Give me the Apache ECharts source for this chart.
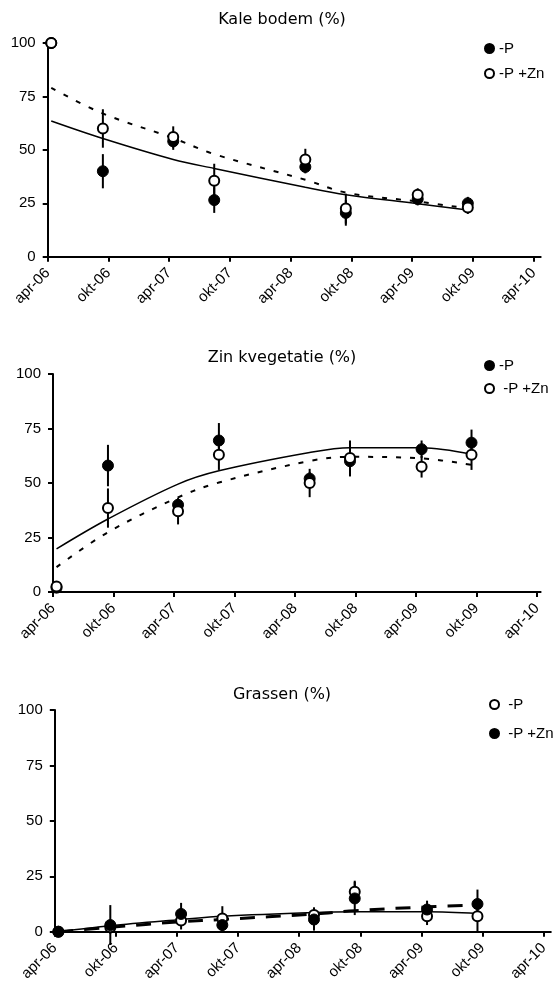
<!DOCTYPE html>
<html>
<head>
<meta charset="utf-8">
<script src="https://cdn.jsdelivr.net/npm/echarts@6/dist/echarts.min.js"></script>
<style>html,body{margin:0;padding:0;background:#fff}#c{width:554px;height:989px}</style>
</head>
<body>
<div id="c"></div>
<script>
// ---- data ----
const xLabels = ['apr-06','okt-06','apr-07','okt-07','apr-08','okt-08','apr-09','okt-09','apr-10'];
const yTicks = [0, 25, 50, 75, 100];
// sampling dates, months since apr-06
const dates = [0.35, 5.45, 12.4, 16.45, 25.45, 29.45, 36.55, 41.5];

// Kale bodem (%)
const kaleP      = [100, 40, 54, 26.5, 42, 20.5, 27, 25];
const kalePErr   = [0, 8, 4, 6, 3, 6, 3, 3];
const kalePZn    = [100, 60, 56, 35.5, 45.5, 22.5, 29, 23];
const kalePZnErr = [0, 9, 5, 8, 5, 7, 3, 3];
const kaleFitP   = [63.5, 55.3, 45.5, 41.3, 32.5, 29, 24.8, 21.8];
const kaleFitPZn = [79, 67, 55.5, 48, 36, 30, 25.8, 22.6];

// Zin kvegetatie (%)
const zinkP      = [2, 58, 40, 69.5, 52, 60, 65.5, 68.5];
const zinkPErr   = [0, 9.5, 3, 8, 3, 7, 4, 6];
const zinkPZn    = [2.5, 38.5, 37, 63, 50, 61.5, 57.5, 63];
const zinkPZnErr = [0, 9, 6, 7, 6.5, 8, 5, 7];
const zinkFitP   = [19.8, 33.5, 49.5, 55.6, 64, 66.2, 66.2, 63.2];
const zinkFitPZn = [11.4, 27.4, 43.4, 50.2, 60.1, 62, 61.3, 58.3];

// Grassen (%)
const grasP      = [0, 2, 5, 6, 7.5, 18, 7, 7];
const grasPErr   = [0, 3, 4, 5.5, 3.5, 5, 4, 7];
const grasPZn    = [0, 3, 8, 3, 5.5, 15, 10, 12.5];
const grasPZnErr = [0, 9, 5, 3, 5, 7.5, 4, 6.5];
const grasFitP   = [0, 2.7, 5.5, 7, 8.7, 9, 9, 8.2];
const grasFitPZn = [0, 2, 4.5, 5.5, 8, 9.5, 11.2, 12];

const titles = ['Kale bodem (%)', 'Zin kvegetatie (%)', 'Grassen (%)'];
const legendNames = {
  k_P: '-P', k_PZn: '-P +Zn',
  z_P: '-P', z_PZn: ' -P +Zn',
  g_P: ' -P', g_PZn: ' -P +Zn'
};

// ---- layout ----
const panels = [
  {left: 47.7, top: 43, height: 213.7, width: 493, max: 48.7, titleY: 20, legTop: 41, legGap: 10, legLeft: 484},
  {left: 53, top: 374, height: 218, width: 487.6, max: 48.35, titleY: 358, legTop: 358, legGap: 8, legLeft: 484},
  {left: 54.8, top: 710, height: 221.7, width: 496, max: 48.7, titleY: 695, legTop: 697, legGap: 14, legLeft: 489}
];

const FONT = "'Liberation Sans', Arial, sans-serif";
const tickVals = xLabels.map((_, i) => i * 6);

const grid = [], xAxis = [], yAxis = [], title = [], legend = [], series = [];

panels.forEach((p, i) => {
  grid.push({left: p.left, top: p.top, width: p.width, height: p.height, containLabel: false});
  xAxis.push({
    type: 'value', gridIndex: i, min: 0, max: p.max,
    axisLine: {show: true, onZero: false, lineStyle: {color: '#000', width: 2}},
    axisTick: {show: true, length: 5, lineStyle: {color: '#000', width: 2}, customValues: tickVals},
    axisLabel: {
      customValues: tickVals, rotate: 45, margin: 14, color: '#000',
      fontFamily: FONT, fontSize: 15,
      formatter: v => xLabels[Math.round(v / 6)]
    },
    splitLine: {show: false}
  });
  yAxis.push({
    type: 'value', gridIndex: i, min: yTicks[0], max: yTicks[yTicks.length - 1], interval: 25,
    axisLine: {show: true, lineStyle: {color: '#000', width: 2}},
    axisTick: {show: true, length: 5, lineStyle: {color: '#000', width: 2}},
    axisLabel: {margin: 12, color: '#000', fontFamily: FONT, fontSize: 15},
    splitLine: {show: false}
  });
  title.push({
    text: titles[i], left: 282, top: p.titleY, padding: 0,
    textAlign: 'center', textVerticalAlign: 'middle',
    textStyle: {fontFamily: "'DejaVu Sans', sans-serif", fontSize: 16, fontWeight: 'normal', color: '#000'}
  });
});

function errData(vals, errs) {
  return dates.map((d, k) => [d, vals[k] - errs[k], vals[k] + errs[k]]);
}
function pts(vals) { return dates.map((d, k) => [d, vals[k]]); }

function errSeries(idx, vals, errs) {
  return {
    type: 'custom', xAxisIndex: idx, yAxisIndex: idx, z: 1, silent: true,
    data: errData(vals, errs), encode: {x: 0, y: [1, 2]},
    renderItem: (params, api) => {
      const x = api.value(0);
      const lo = api.coord([x, api.value(1)]);
      const hi = api.coord([x, api.value(2)]);
      return {type: 'line', shape: {x1: lo[0], y1: lo[1], x2: hi[0], y2: hi[1]},
              style: {stroke: '#000', lineWidth: 2}};
    }
  };
}
function fitSeries(idx, vals, dash, width) {
  return {
    type: 'line', xAxisIndex: idx, yAxisIndex: idx, z: 2, silent: true,
    data: pts(vals), smooth: 0.35, symbol: 'none',
    lineStyle: {color: '#000', width: width, type: dash}
  };
}
function markSeries(idx, name, vals, filled, z) {
  return {
    name: name, type: 'scatter', xAxisIndex: idx, yAxisIndex: idx, z: z,
    data: pts(vals), symbol: 'circle', symbolSize: filled ? 11 : 10,
    itemStyle: filled ? {color: '#000', borderColor: '#000', borderWidth: 1, opacity: 1}
                      : {color: '#fff', borderColor: '#000', borderWidth: 2, opacity: 1}
  };
}

// panel 1
series.push(errSeries(0, kaleP, kalePErr), errSeries(0, kalePZn, kalePZnErr));
series.push(fitSeries(0, kaleFitP, 'solid', 1.5), fitSeries(0, kaleFitPZn, [5, 9], 2));
series.push(markSeries(0, 'k_P', kaleP, true, 3), markSeries(0, 'k_PZn', kalePZn, false, 4));
// panel 2
series.push(errSeries(1, zinkP, zinkPErr), errSeries(1, zinkPZn, zinkPZnErr));
series.push(fitSeries(1, zinkFitP, 'solid', 1.5), fitSeries(1, zinkFitPZn, [5, 9], 2));
series.push(markSeries(1, 'z_P', zinkP, true, 3), markSeries(1, 'z_PZn', zinkPZn, false, 4));
// panel 3 (open = -P, filled = -P +Zn)
series.push(errSeries(2, grasP, grasPErr), errSeries(2, grasPZn, grasPZnErr));
series.push(fitSeries(2, grasFitP, 'solid', 1.5), fitSeries(2, grasFitPZn, [15, 11], 3));
series.push(markSeries(2, 'g_P', grasP, false, 3), markSeries(2, 'g_PZn', grasPZn, true, 4));

const legData = [['k_P', 'k_PZn'], ['z_P', 'z_PZn'], ['g_P', 'g_PZn']];
panels.forEach((p, i) => {
  legend.push({
    data: legData[i], orient: 'vertical', left: p.legLeft, top: p.legTop, padding: 0,
    itemWidth: 9, itemHeight: 9, itemGap: p.legGap, selectedMode: false,
    formatter: n => legendNames[n],
    textStyle: {fontFamily: FONT, fontSize: 15, color: '#000', lineHeight: 14}
  });
});

const chart = echarts.init(document.getElementById('c'), null, {renderer: 'canvas'});
chart.setOption({
  animation: false, backgroundColor: '#fff',
  title, legend, grid, xAxis, yAxis, series
});
</script>
</body>
</html>
